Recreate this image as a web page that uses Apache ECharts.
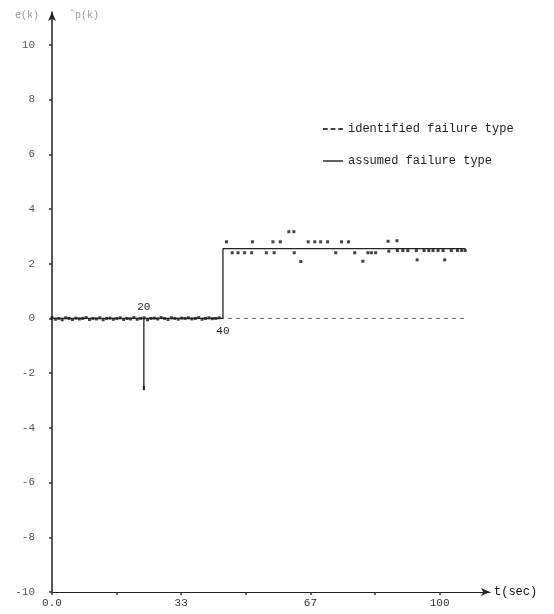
<!DOCTYPE html>
<html>
<head>
<meta charset="utf-8">
<script src="https://cdn.jsdelivr.net/npm/echarts@6/dist/echarts.min.js"></script>
<style>html,body{margin:0;padding:0;background:#fff}#c{width:554px;height:614px}</style>
</head>
<body>
<div id="c"></div>
<script>
// ---- data ----
const xTickLabels = {0: '0.0', 33: '33', 67: '67', 100: '100'};
const yTickValues = [-10, -8, -6, -4, -2, 0, 2, 4, 6, 8, 10];

// identified failure type: samples before the step (sample grid step 0.88 s)
const zeroStep = 0.88;
const zeroValues = [0.02,-0.03,0.0,-0.05,0.02,0.0,-0.04,0.01,-0.02,0.0,
                    0.03,-0.04,0.0,-0.02,0.02,-0.05,0.0,0.01,-0.03,0.0,
                    0.02,-0.04,0.0,-0.02,0.03,-0.03,0.0,0.02,-0.05,0.0,
                    0.01,-0.02,0.03,0.0,-0.04,0.02,0.0,-0.03,0.01,0.0,
                    0.02,-0.02,0.0,0.03,-0.03,0.0,0.02,-0.01,0.0,0.02];
// identified failure type: samples after the step (time, value)
const stepTimes  = [45.0,46.5,48.0,49.7,51.5,51.7,55.3,57.0,57.3,58.9,
                    61.1,62.4,62.5,64.2,66.1,67.8,69.3,71.1,73.2,74.7,
                    76.5,78.1,80.2,81.5,82.4,83.5,86.7,86.9,89.0,89.1,
                    90.5,91.8,94.0,94.2,96.0,97.2,98.3,99.6,100.9,101.3,
                    103.0,104.6,105.7,106.6];
const stepValues = [2.80,2.40,2.40,2.40,2.40,2.80,2.40,2.80,2.40,2.80,
                    3.17,3.17,2.40,2.08,2.80,2.80,2.80,2.80,2.40,2.80,
                    2.80,2.40,2.09,2.40,2.40,2.40,2.82,2.46,2.84,2.48,
                    2.48,2.48,2.48,2.14,2.48,2.48,2.48,2.48,2.48,2.14,
                    2.48,2.48,2.48,2.48];

// assumed failure type
const dropTime = 23.7, dropValue = -2.55;
const stepTime = 44.1, stepLevel = 2.55, endTime = 106.7;
const dropLabel = '20', stepLabel = '40';

// ---- build ----
const identified = [];
zeroValues.forEach((v, i) => identified.push([i * zeroStep, v]));
stepTimes.forEach((t, i) => identified.push([t, stepValues[i]]));

const assumed = [
  [0, 0],
  {value: [dropTime, 0], label: {show: true, formatter: dropLabel, position: 'top', distance: 6}},
  {value: [dropTime, dropValue], symbol: 'rect', symbolSize: [2, 4]},
  [dropTime, 0],
  {value: [stepTime, 0], label: {show: true, formatter: stepLabel, position: 'bottom', distance: 7}},
  [stepTime, stepLevel],
  [endTime, stepLevel]
];

const mono = 'Liberation Mono';
const chart = echarts.init(document.getElementById('c'), null, {renderer: 'canvas'});
chart.setOption({
  animation: false,
  backgroundColor: '#fff',
  grid: {left: 52, right: 64, top: 12, bottom: 22, containLabel: false, outerBoundsMode: 'none'},
  legend: {
    left: 318, top: 118, orient: 'vertical', itemGap: 20, itemWidth: 20, itemHeight: 3,
    textStyle: {fontFamily: mono, fontSize: 12, color: '#222'},
    data: [
      {name: 'identified failure type', icon: 'path://M0,0 L5,0 L5,2 L0,2 Z M8,0 L13,0 L13,2 L8,2 Z M16,0 L21,0 L21,2 L16,2 Z'},
      {name: 'assumed failure type', icon: 'path://M0,0 L21,0 L21,1.5 L0,1.5 Z'}
    ]
  },
  xAxis: {
    type: 'value', min: 0, max: 113, interval: 100 / 6,
    name: 't(sec)', nameLocation: 'end', nameGap: 4,
    nameTextStyle: {fontFamily: mono, fontSize: 12, color: '#111', verticalAlign: 'middle'},
    axisLine: {onZero: false, symbol: ['none', 'arrow'], symbolSize: [6, 9], lineStyle: {color: '#222', width: 1.2}},
    axisTick: {show: true, length: 3, inside: false, lineStyle: {color: '#333', width: 1.5}},
    splitLine: {show: false},
    axisLabel: {
      fontFamily: mono, fontSize: 11, color: '#333', margin: 6, showMaxLabel: false,
      formatter: v => { const r = Math.round(v); return (Math.abs(v - r) < 0.4 && xTickLabels[r] !== undefined) ? xTickLabels[r] : ''; }
    }
  },
  yAxis: {
    type: 'value', min: -10, max: 11.2, interval: 2,
    name: 'e(k)     \u02C6p(k)', nameLocation: 'end', nameGap: -8,
    nameTextStyle: {fontFamily: mono, fontSize: 10, color: '#999', align: 'left', padding: [0, 0, 0, -37]},
    axisLine: {onZero: false, symbol: ['none', 'arrow'], symbolSize: [6, 9], lineStyle: {color: '#222', width: 1.5}},
    axisTick: {show: true, length: 3, inside: false, lineStyle: {color: '#333', width: 1.5}},
    splitLine: {show: false},
    axisLabel: {
      fontFamily: mono, fontSize: 11, color: '#555', margin: 17, showMaxLabel: false,
      formatter: v => (yTickValues.indexOf(v) >= 0 ? String(v) : '')
    }
  },
  series: [
    {
      type: 'line', silent: true, symbol: 'none',
      data: [[0, 0], [endTime, 0]],
      lineStyle: {color: '#666', width: 1, type: [4, 4]}
    },
    {
      name: 'assumed failure type', type: 'line', symbol: 'circle', symbolSize: 0, showSymbol: true, silent: true,
      data: assumed,
      itemStyle: {color: '#222'},
      lineStyle: {color: '#222', width: 1.3},
      label: {fontFamily: mono, fontSize: 11, color: '#222'}
    },
    {
      name: 'identified failure type', type: 'scatter', symbol: 'rect', symbolSize: 3,
      data: identified,
      itemStyle: {color: '#111'}
    }
  ]
});
</script>
</body>
</html>
